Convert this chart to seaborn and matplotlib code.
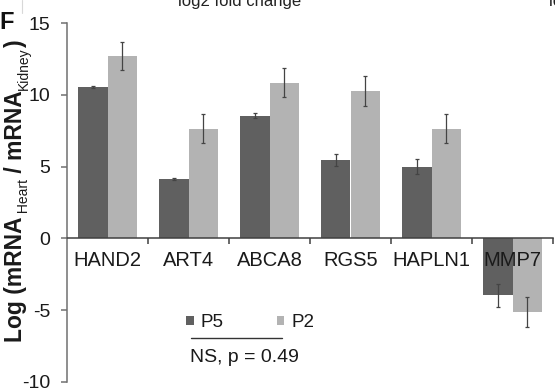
import numpy as np
import pandas as pd
import matplotlib
matplotlib.use('Agg')
import matplotlib.pyplot as plt
import seaborn as sns
from matplotlib.lines import Line2D

genes = ["HAND2", "ART4", "ABCA8", "RGS5", "HAPLN1", "MMP7"]
groups = ["P5", "P2"]
p5_mean = [10.55, 4.15, 8.55, 5.45, 5.0, -3.95]
p5_err = [0.05, 0.07, 0.2, 0.4, 0.5, 0.8]
p2_mean = [12.7, 7.65, 10.85, 10.25, 7.65, -5.15]
p2_err = [1.0, 1.0, 1.0, 1.05, 1.0, 1.05]
colors = ["#606060", "#b3b3b3"]
yticks = [-10, -5, 0, 5, 10, 15]

sns.set_style('white')
plt.rcParams['font.family'] = ['Liberation Sans', 'DejaVu Sans']
plt.rcParams['axes.unicode_minus'] = False

df = pd.DataFrame({
    'gene': genes * 2,
    'group': ['P5'] * len(genes) + ['P2'] * len(genes),
    'value': p5_mean + p2_mean,
})

fig = plt.figure(figsize=(5.55, 3.92), dpi=100)
ax = fig.add_axes([67 / 555, 10 / 392, 486 / 555, 359 / 392])
sns.barplot(data=df, x='gene', y='value', hue='group', hue_order=groups,
            order=genes, palette=colors, width=0.73, errorbar=None,
            linewidth=0, saturation=1, ax=ax)

for cont, means, errs in zip(ax.containers, [p5_mean, p2_mean], [p5_err, p2_err]):
    xs = [b.get_x() + b.get_width() / 2 for b in cont]
    ax.errorbar(xs, means, yerr=errs, fmt='none', ecolor='#444444',
                elinewidth=0.9, capsize=1.2, capthick=0.9, zorder=3)

ax.set_xlim(-0.5, 5.5)
ax.set_ylim(-10, 15)
ax.set_yticks(yticks)
ax.set_yticklabels([str(t) for t in yticks])
ax.spines['bottom'].set_position(('data', 0))
ax.spines['top'].set_visible(False)
ax.spines['right'].set_visible(False)
ax.spines['left'].set_color('#707070')
ax.spines['bottom'].set_color('#404040')
ax.spines['left'].set_linewidth(1.1)
ax.spines['bottom'].set_linewidth(1.1)
ax.set_xticks(range(len(genes)))
ax.set_xticklabels(genes)
ax.set_xticks(np.arange(0.5, len(genes), 1), minor=True)
ax.tick_params(axis='x', which='major', length=0, pad=9, labelsize=14.5,
               labelcolor='#1a1a1a', bottom=True)
ax.tick_params(axis='x', which='minor', length=4, width=1.1, direction='out',
               color='#404040', bottom=True)
ax.tick_params(axis='y', length=4, width=1.1, direction='out', pad=8,
               labelsize=14, color='#707070', labelcolor='#1a1a1a', left=True)
ax.set_xlabel('')
ax.set_ylabel('')
ax.set_axisbelow(False)

handles, labels = ax.get_legend_handles_labels()
ax.legend(handles, labels, ncol=2, frameon=False, loc='center left',
          bbox_to_anchor=(186 / 555, 1 - 322.5 / 392), bbox_transform=fig.transFigure,
          fontsize=13.5, handlelength=0.4, handleheight=0.4, handletextpad=0.4,
          columnspacing=2.8, borderpad=0, borderaxespad=0, labelcolor='#1a1a1a')

fig.add_artist(Line2D([191 / 555, 282 / 555], [1 - 338 / 392] * 2,
                      transform=fig.transFigure, color='#333333', lw=1))
fig.text(190 / 555, 1 - 358 / 392, 'NS, p = 0.49', fontsize=14,
         va='center', ha='left', color='#1a1a1a')

# y-axis label built piece by piece (bold main text, regular subscripts)
pieces = [("Log (mRNA", 16.5, 'bold', 22), (" Heart", 10, 'normal', 27.5),
          (" / mRNA", 16.5, 'bold', 22), ("Kidney", 10, 'normal', 27.5),
          (")", 16.5, 'bold', 22)]
renderer = fig.canvas.get_renderer()
ypos = 1 - 342 / 392
for txt, size, weight, xb in pieces:
    t = fig.text(xb / 555, ypos, txt, rotation=90, rotation_mode='anchor',
                 ha='left', va='baseline', fontsize=size, fontweight=weight,
                 color='#1a1a1a')
    bb = t.get_window_extent(renderer)
    ypos += bb.height / fig.bbox.height

fig.text(-1 / 555, 1 - 11 / 392, 'F', fontsize=17, fontweight='bold',
         va='top', ha='left', color='#111111')
fig.add_artist(Line2D([22 / 555, 22 / 555], [1, 1 - 13 / 392],
                      transform=fig.transFigure, color='#d8d8d8', lw=0.8))
fig.text(240 / 555, 1 - 6 / 392, 'log2 fold change', fontsize=12,
         ha='center', va='baseline', color='#222222')
fig.text(549 / 555, 1 - 6 / 392, 'log2 fold change', fontsize=12,
         ha='left', va='baseline', color='#222222')

fig.savefig('out.png', dpi=100)
